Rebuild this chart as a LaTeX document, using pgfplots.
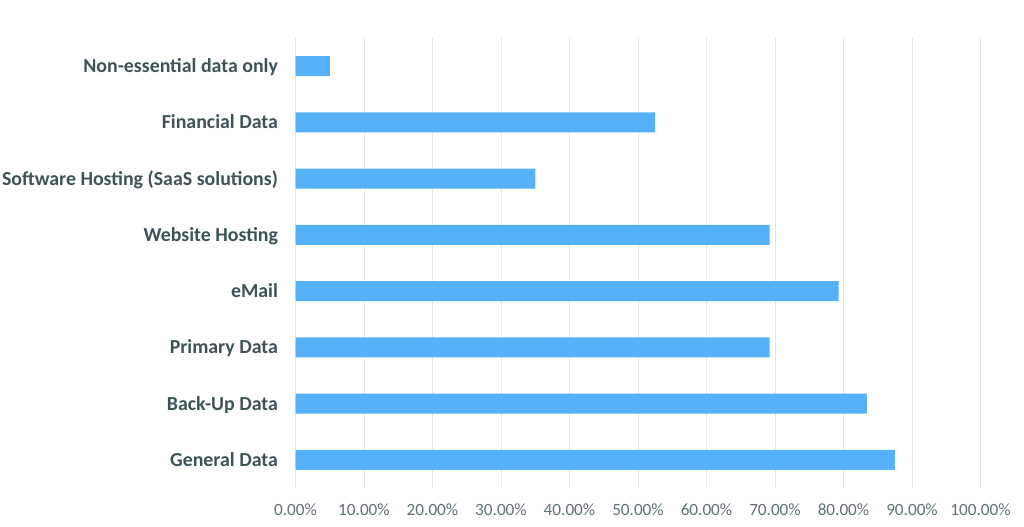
\documentclass[border=0pt]{standalone}
\usepackage{pgfplots}
\pgfplotsset{compat=1.18}
\usepackage{fontspec}
\setmainfont{Carlito}
\definecolor{barblue}{HTML}{56B1FB}
\definecolor{labgray}{HTML}{3F5357}
\definecolor{tickgray}{HTML}{5E7175}
\definecolor{gridgray}{HTML}{E3E6E6}
\begin{document}
\begin{tikzpicture}
\path[use as bounding box] (0,0) rectangle (768pt,394.5pt);
\begin{axis}[
  at={(221.625pt,28.5pt)}, anchor=south west,
  scale only axis, width=513.75pt, height=337.5pt,
  xbar, bar width=15pt,
  xmin=0, xmax=100, ymin=-0.5, ymax=7.5,
  enlargelimits=false,
  xtick={0,10,...,100},
  xticklabels={0.00\%,10.00\%,20.00\%,30.00\%,40.00\%,50.00\%,60.00\%,70.00\%,80.00\%,90.00\%,100.00\%},
  ytick={0,...,7},
  yticklabels={General Data, Back-Up Data, Primary Data, eMail, Website Hosting, Software Hosting (SaaS solutions), Financial Data, Non-essential data only},
  axis line style={draw=none},
  tick style={draw=none},
  xmajorgrids, grid style={gridgray, line width=0.75pt},
  xticklabel style={font=\fontsize{12.9pt}{15pt}\selectfont, text=tickgray, inner sep=0pt, anchor=base, yshift=-20.6pt},
  yticklabel style={font=\fontsize{14.9pt}{17pt}\selectfont\bfseries, text=labgray, inner sep=0pt, anchor=base east, xshift=-8.7pt, yshift=-4.8pt},
]
\addplot[fill=barblue, draw=none] coordinates {(87.5,0) (83.4,1) (69.2,2) (79.3,3) (69.2,4) (35.0,5) (52.5,6) (5.0,7)};
\end{axis}
\end{tikzpicture}
\end{document}
